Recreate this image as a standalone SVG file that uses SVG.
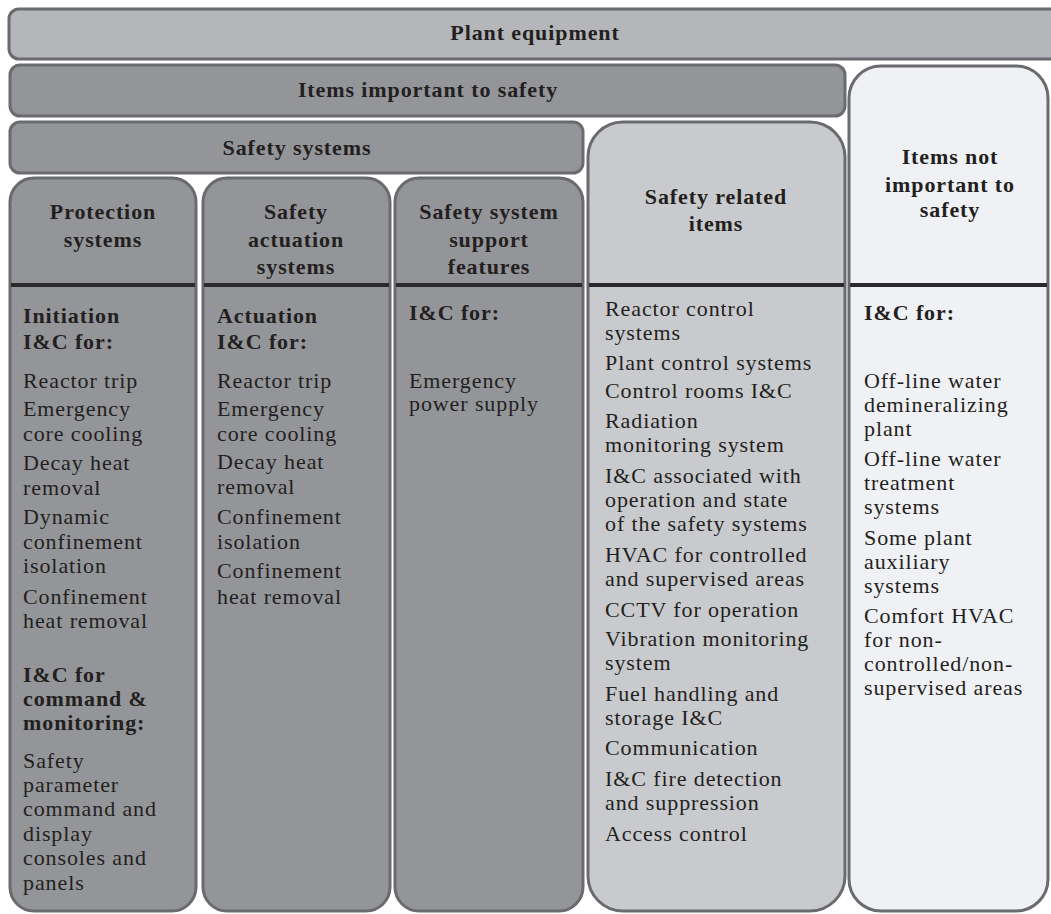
<svg xmlns="http://www.w3.org/2000/svg" width="1051" height="914" viewBox="0 0 1051 914">
<style>
.box{stroke:#6a6b6e;stroke-width:3}
.light{fill:#b4b6b9}
.dark{fill:#939598}
.mid{fill:#c8cacd}
.pale{fill:#f0f1f5}
.div{stroke:#2a2a2d;stroke-width:4}
text{font-family:'Liberation Serif','DejaVu Serif',serif;fill:#231f20;font-size:22px;letter-spacing:0.9px}
.b{font-weight:bold}
.c{text-anchor:middle}
</style>
<rect width="1051" height="914" fill="#ffffff"/>
<g id="plant-equipment">
<rect class="box light" x="9" y="9" width="1060" height="50" rx="10"/>
<text class="b c" x="535" y="40">Plant equipment</text>
</g>
<g id="items-important">
<rect class="box dark" x="10" y="65" width="835" height="51" rx="10"/>
<text class="b c" x="428" y="97">Items important to safety</text>
</g>
<g id="safety-systems">
<rect class="box dark" x="10" y="122" width="573" height="51" rx="10"/>
<text class="b c" x="297" y="155">Safety systems</text>
</g>
<g id="protection-systems">
<rect class="box dark" x="10" y="178" width="186" height="733" rx="24"/>
<line class="div" x1="11" y1="285" x2="195" y2="285"/>
<text class="b c" x="103" y="219">Protection</text>
<text class="b c" x="103" y="247">systems</text>
<text class="b" x="23" y="323">Initiation</text>
<text class="b" x="23" y="349">I&amp;C for:</text>
<text x="23" y="388">Reactor trip</text>
<text x="23" y="416">Emergency</text>
<text x="23" y="441">core cooling</text>
<text x="23" y="470">Decay heat</text>
<text x="23" y="495">removal</text>
<text x="23" y="524">Dynamic</text>
<text x="23" y="549">confinement</text>
<text x="23" y="573">isolation</text>
<text x="23" y="604">Confinement</text>
<text x="23" y="628">heat removal</text>
<text class="b" x="23" y="682">I&amp;C for</text>
<text class="b" x="23" y="706">command &amp;</text>
<text class="b" x="23" y="730">monitoring:</text>
<text x="23" y="768">Safety</text>
<text x="23" y="792">parameter</text>
<text x="23" y="816">command and</text>
<text x="23" y="841">display</text>
<text x="23" y="865">consoles and</text>
<text x="23" y="890">panels</text>
</g>
<g id="safety-actuation-systems">
<rect class="box dark" x="203" y="178" width="187" height="733" rx="24"/>
<line class="div" x1="204" y1="285" x2="389" y2="285"/>
<text class="b c" x="296" y="219">Safety</text>
<text class="b c" x="296" y="247">actuation</text>
<text class="b c" x="296" y="274">systems</text>
<text class="b" x="217" y="323">Actuation</text>
<text class="b" x="217" y="349">I&amp;C for:</text>
<text x="217" y="388">Reactor trip</text>
<text x="217" y="416">Emergency</text>
<text x="217" y="441">core cooling</text>
<text x="217" y="469">Decay heat</text>
<text x="217" y="494">removal</text>
<text x="217" y="524">Confinement</text>
<text x="217" y="549">isolation</text>
<text x="217" y="578">Confinement</text>
<text x="217" y="604">heat removal</text>
</g>
<g id="safety-system-support-features">
<rect class="box dark" x="395" y="178" width="188" height="733" rx="24"/>
<line class="div" x1="396" y1="285" x2="582" y2="285"/>
<text class="b c" x="489" y="219">Safety system</text>
<text class="b c" x="489" y="247">support</text>
<text class="b c" x="489" y="274">features</text>
<text class="b" x="409" y="320">I&amp;C for:</text>
<text x="409" y="388">Emergency</text>
<text x="409" y="411">power supply</text>
</g>
<g id="safety-related-items">
<rect class="box mid" x="588" y="122" width="257" height="789" rx="35"/>
<line class="div" x1="589" y1="285" x2="844" y2="285"/>
<text class="b c" x="716" y="204">Safety related</text>
<text class="b c" x="716" y="231">items</text>
<text x="605" y="316">Reactor control</text>
<text x="605" y="340">systems</text>
<text x="605" y="370">Plant control systems</text>
<text x="605" y="398">Control rooms I&amp;C</text>
<text x="605" y="428">Radiation</text>
<text x="605" y="452">monitoring system</text>
<text x="605" y="483">I&amp;C associated with</text>
<text x="605" y="507">operation and state</text>
<text x="605" y="531">of the safety systems</text>
<text x="605" y="562">HVAC for controlled</text>
<text x="605" y="586">and supervised areas</text>
<text x="605" y="617">CCTV for operation</text>
<text x="605" y="646">Vibration monitoring</text>
<text x="605" y="670">system</text>
<text x="605" y="701">Fuel handling and</text>
<text x="605" y="725">storage I&amp;C</text>
<text x="605" y="755">Communication</text>
<text x="605" y="786">I&amp;C fire detection</text>
<text x="605" y="810">and suppression</text>
<text x="605" y="841">Access control</text>
</g>
<g id="items-not-important">
<rect class="box pale" x="849" y="66" width="199" height="845" rx="32"/>
<line class="div" x1="850" y1="285" x2="1047" y2="285"/>
<text class="b c" x="950" y="164">Items not</text>
<text class="b c" x="950" y="192">important to</text>
<text class="b c" x="950" y="217">safety</text>
<text class="b" x="864" y="320">I&amp;C for:</text>
<text x="864" y="388">Off-line water</text>
<text x="864" y="412">demineralizing</text>
<text x="864" y="436">plant</text>
<text x="864" y="466">Off-line water</text>
<text x="864" y="490">treatment</text>
<text x="864" y="514">systems</text>
<text x="864" y="545">Some plant</text>
<text x="864" y="569">auxiliary</text>
<text x="864" y="593">systems</text>
<text x="864" y="623">Comfort HVAC</text>
<text x="864" y="647">for non-</text>
<text x="864" y="671">controlled/non-</text>
<text x="864" y="695">supervised areas</text>
</g>
<g id="connectors"></g>
</svg>
